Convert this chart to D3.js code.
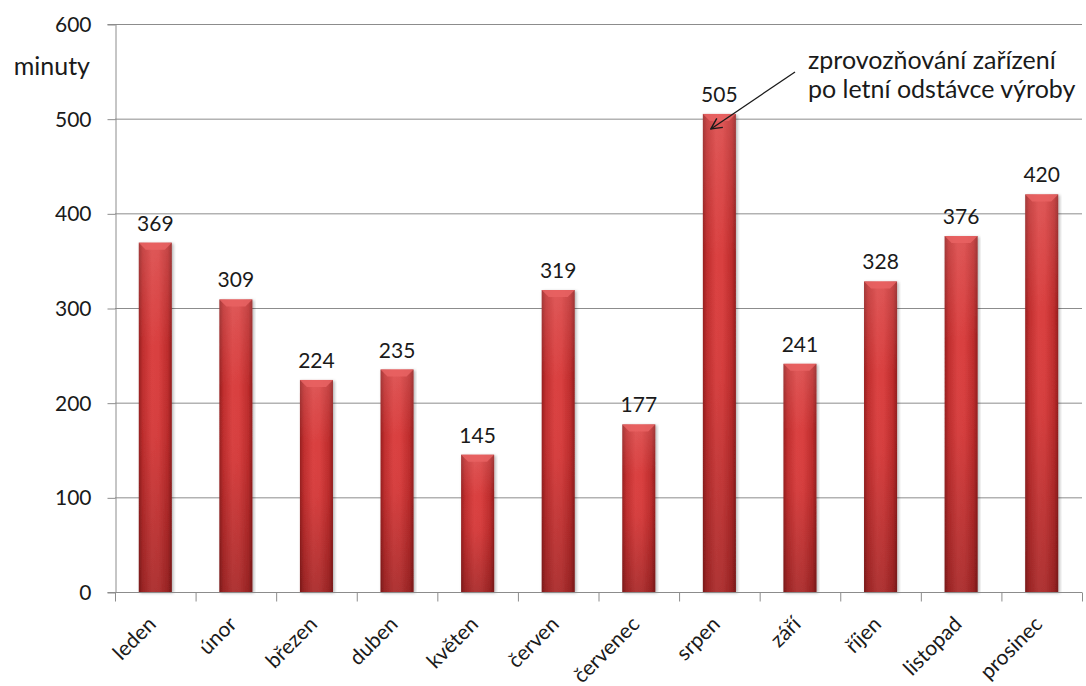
<!DOCTYPE html>
<html>
<head>
<meta charset="utf-8">
<script src="https://cdn.jsdelivr.net/npm/d3@7"></script>
<style>
  html, body { margin: 0; padding: 0; background: #fff; }
  svg { display: block; }
  text { font-family: Lato, "Open Sans", sans-serif; fill: #1a1a1a; }
</style>
</head>
<body>
<svg id="chart" width="1086" height="686"></svg>
<script>
// Monthly downtime in minutes
const months = ["leden", "únor", "březen", "duben", "květen", "červen",
                "červenec", "srpen", "září", "říjen", "listopad", "prosinec"];
const minutes = [369, 309, 224, 235, 145, 319, 177, 505, 241, 328, 376, 420];
const yTicks = [0, 100, 200, 300, 400, 500, 600];
const yLabel = "minuty";
const noteLines = ["zprovozňování zařízení", "po letní odstávce výroby"];
const noteMonth = "srpen";

const svg = d3.select("#chart");
const plotLeft = 115, plotRight = 1082, plotTop = 24, plotBottom = 592;

const x = d3.scaleBand().domain(months).range([plotLeft, plotRight])
  .paddingInner(0.59).paddingOuter(0.295);
const y = d3.scaleLinear().domain([0, 600]).range([plotBottom, plotTop]);

const defs = svg.append("defs");
// cylinder-like shading across each bar
const g1 = defs.append("linearGradient").attr("id", "barFill")
  .attr("x1", 0).attr("x2", 1).attr("y1", 0).attr("y2", 0);
[[0, "#962020"], [0.12, "#bf2e2e"], [0.4, "#da4242"], [0.6, "#d83f3f"],
 [0.88, "#bc2c2c"], [1, "#921e1e"]].forEach(([o, c]) =>
  g1.append("stop").attr("offset", o).attr("stop-color", c));
// lighter at the top, darker towards the baseline
const g2 = defs.append("linearGradient").attr("id", "barShade")
  .attr("x1", 0).attr("x2", 0).attr("y1", 0).attr("y2", 1);
[[0, "#fff", 0.12], [0.3, "#fff", 0], [0.55, "#000", 0.02], [1, "#000", 0.2]].forEach(([o, c, a]) =>
  g2.append("stop").attr("offset", o).attr("stop-color", c).attr("stop-opacity", a));
defs.append("filter").attr("id", "shadow")
  .append("feDropShadow").attr("dx", 1.5).attr("dy", 1).attr("stdDeviation", 1.5)
  .attr("flood-color", "#000").attr("flood-opacity", 0.3);
const mk = defs.append("marker").attr("id", "arrowHead")
  .attr("viewBox", "0 0 12 12").attr("refX", 11).attr("refY", 6)
  .attr("markerWidth", 13).attr("markerHeight", 13).attr("markerUnits", "userSpaceOnUse")
  .attr("orient", "auto");
mk.append("path").attr("d", "M1,1 L11,6 L1,11").attr("fill", "none")
  .attr("stroke", "#1a1a1a").attr("stroke-width", 1.3);

// Horizontal gridlines
svg.append("g").selectAll("line").data(yTicks.slice(1)).join("line")
  .attr("x1", plotLeft).attr("x2", plotRight)
  .attr("y1", d => y(d) + 0.5).attr("y2", d => y(d) + 0.5)
  .attr("stroke", "#8c8c8c").attr("stroke-width", 1);

// Y axis
const yAxis = svg.append("g").attr("transform", `translate(${plotLeft + 0.5},0)`)
  .call(d3.axisLeft(y).tickValues(yTicks).tickSize(8).tickPadding(16));
yAxis.select(".domain").attr("stroke", "#8c8c8c");
yAxis.selectAll(".tick line").attr("stroke", "#8c8c8c").attr("transform", "translate(0,0.5)");
yAxis.selectAll(".tick text").attr("font-size", 21).attr("font-family", "Lato, sans-serif")
  .attr("fill", "#1a1a1a").attr("dy", "0.36em");

svg.append("text").attr("x", 90).attr("y", 75).attr("text-anchor", "end")
  .attr("font-size", 25).text(yLabel);

// Bars
const bars = svg.append("g").selectAll("g").data(months).join("g")
  .attr("filter", "url(#shadow)");
bars.append("rect")
  .attr("x", d => x(d)).attr("width", x.bandwidth())
  .attr("y", (d, i) => y(minutes[i])).attr("height", (d, i) => plotBottom - y(minutes[i]))
  .attr("fill", "url(#barFill)");
bars.append("rect")
  .attr("x", d => x(d)).attr("width", x.bandwidth())
  .attr("y", (d, i) => y(minutes[i])).attr("height", (d, i) => plotBottom - y(minutes[i]))
  .attr("fill", "url(#barShade)");
// bevelled top of each bar
bars.append("path")
  .attr("d", (d, i) => {
    const x0 = x(d), w = x.bandwidth(), t = y(minutes[i]), b = 7;
    return `M${x0},${t} L${x0 + w},${t} L${x0 + w - b},${t + b} L${x0 + b},${t + b} Z`;
  })
  .attr("fill", "#ea6464").attr("opacity", 0.8);

// X axis
const xAxis = svg.append("g").attr("transform", `translate(0,${plotBottom + 0.5})`);
xAxis.append("line").attr("x1", plotLeft).attr("x2", plotRight).attr("stroke", "#8c8c8c");
const step = x.step();
xAxis.selectAll("line.tk").data(d3.range(months.length + 1)).join("line")
  .attr("class", "tk")
  .attr("x1", i => plotLeft + i * step + 0.5).attr("x2", i => plotLeft + i * step + 0.5)
  .attr("y1", 0).attr("y2", 9).attr("stroke", "#8c8c8c");
xAxis.selectAll("text").data(months).join("text")
  .attr("text-anchor", "end").attr("font-size", 21)
  .attr("transform", d => `translate(${x(d) + x.bandwidth() / 2 + 2},${33}) rotate(-45)`)
  .text(d => d);

// Value labels
svg.append("g").selectAll("text").data(months).join("text")
  .attr("x", d => x(d) + x.bandwidth() / 2)
  .attr("y", (d, i) => y(minutes[i]) - 12)
  .attr("text-anchor", "middle").attr("font-size", 21)
  .text((d, i) => minutes[i]);

// Annotation
const ni = months.indexOf(noteMonth);
const nx = x(noteMonth);
svg.append("line")
  .attr("x1", 795).attr("y1", 72)
  .attr("x2", nx + 8).attr("y2", y(minutes[ni]) + 15)
  .attr("stroke", "#1a1a1a").attr("stroke-width", 1.3)
  .attr("marker-end", "url(#arrowHead)");
svg.append("g").selectAll("text").data(noteLines).join("text")
  .attr("x", 808).attr("y", (d, i) => 69 + i * 29)
  .attr("font-size", 25).attr("fill", "#1a1a2e")
  .text(d => d);
</script>
</body>
</html>
